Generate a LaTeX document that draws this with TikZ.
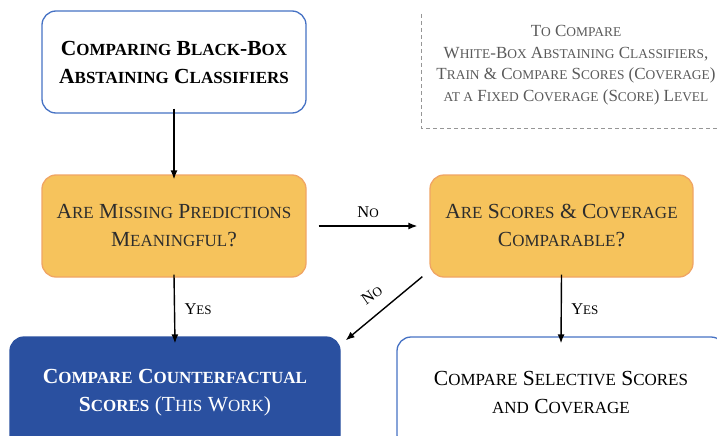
\documentclass[tikz,border=0pt]{standalone}
\usepackage{fontspec}
\setmainfont{Liberation Serif}
\usetikzlibrary{arrows.meta}

% hand-made small capitals: lower-case part set as scaled capitals
\newcommand\sm[1]{\scalebox{0.79}{#1}}

\definecolor{lineblue}{RGB}{70,114,196}
\definecolor{deepblue}{RGB}{42,80,160}
\definecolor{softorange}{RGB}{246,195,92}
\definecolor{orangeline}{RGB}{240,165,100}
\definecolor{darktext}{RGB}{45,45,45}
\definecolor{notegray}{RGB}{90,90,90}
\definecolor{dashgray}{RGB}{150,150,150}

\tikzset{
  box/.style={rounded corners=14pt, line width=1.3pt, align=center,
    font=\fontsize{21.5}{28}\selectfont, inner sep=0pt},
  whitebox/.style={box, draw=lineblue, fill=white},
  question/.style={box, draw=orangeline, fill=softorange, text=darktext},
  resultbox/.style={box, draw=deepblue, fill=deepblue, text=white},
  flow/.style={line width=1.4pt, -{Latex[length=9pt,width=7pt]}},
  edgelabel/.style={font=\fontsize{16.5}{18}\selectfont, text=black},
  note/.style={align=center, text=notegray, font=\fontsize{17}{21.5}\selectfont},
  notedash/.style={draw=dashgray, line width=1pt, dashed, dash pattern=on 4pt off 3pt}
}

\begin{document}
\begin{tikzpicture}[x=1pt,y=-1pt]
\useasboundingbox (0,0) rectangle (717,436);

% boxes
\node[whitebox, minimum width=264pt, minimum height=102pt] (start) at (174,62)
  {\bfseries C\sm{OMPARING} B\sm{LACK}-B\sm{OX}\\ \bfseries A\sm{BSTAINING} C\sm{LASSIFIERS}};

\node[question, minimum width=264pt, minimum height=102pt] (missing) at (174,226)
  {A\sm{RE} M\sm{ISSING} P\sm{REDICTIONS}\\ M\sm{EANINGFUL}?};

\node[question, minimum width=263pt, minimum height=102pt] (comparable) at (561.5,226)
  {A\sm{RE} S\sm{CORES} \& C\sm{OVERAGE}\\ C\sm{OMPARABLE}?};

\node[resultbox, minimum width=330pt, minimum height=112pt] (counter) at (175,393)
  {\bfseries C\sm{OMPARE} C\sm{OUNTERFACTUAL}\\ \textbf{S\sm{CORES}} (T\sm{HIS} W\sm{ORK})};

\node[whitebox, minimum width=328pt, minimum height=112pt] (selective) at (561,393)
  {C\sm{OMPARE} S\sm{ELECTIVE} S\sm{CORES}\\ \sm{AND} C\sm{OVERAGE}};

% side note with its dashed frame
\node[note] (whitebox note) at (576,65)
  {T\sm{O} C\sm{OMPARE}\\ W\sm{HITE}-B\sm{OX} A\sm{BSTAINING} C\sm{LASSIFIERS},\\
   T\sm{RAIN} \& C\sm{OMPARE} S\sm{CORES} (C\sm{OVERAGE})\\ \sm{AT A} F\sm{IXED} C\sm{OVERAGE} (S\sm{CORE}) L\sm{EVEL}};
\coordinate (frame top) at (421,14);
\coordinate (frame corner) at (421,128);
\coordinate (frame end) at (717,128);
\draw[notedash] (frame top) -- (frame corner) -- (frame end);

% connectors
\draw[flow] ([yshift=5pt]start.south) -- ([yshift=-5pt]missing.north);
\draw[flow] ([xshift=12pt]missing.east) -- node[edgelabel, above=4pt] {N\sm{O}} ([xshift=-12pt]comparable.east -| comparable.west);
\draw[flow] ([yshift=3pt]missing.south) -- node[edgelabel, right=6pt] {Y\sm{ES}} ([yshift=-7pt]counter.north);
\draw[flow] ([yshift=3pt]comparable.south) -- node[edgelabel, right=6pt] {Y\sm{ES}} ([yshift=-7pt]selective.north);
\draw[flow] ([xshift=-7pt,yshift=1pt]comparable.south west) -- node[edgelabel, rotate=35, above=9pt, pos=0.52] {N\sm{O}} ([xshift=5pt,yshift=-4pt]counter.north east);
\end{tikzpicture}
\end{document}
